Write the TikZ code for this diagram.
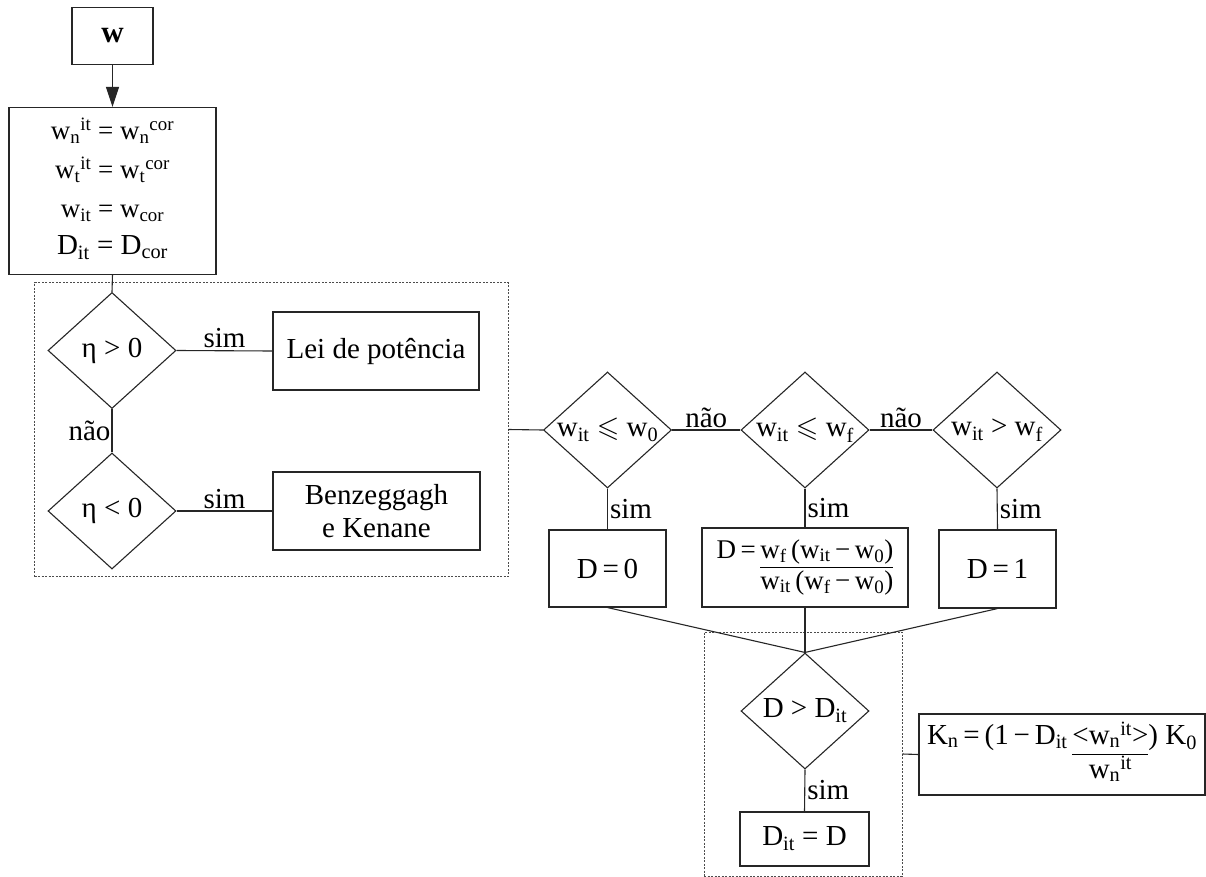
\documentclass[tikz,border=0pt]{standalone}
\usepackage{fontspec}
\setmainfont{Liberation Serif}
\usepackage{amssymb}
\usetikzlibrary{shapes.geometric,arrows.meta}
\setlength{\arrayrulewidth}{1pt}
\begin{document}
\begin{tikzpicture}[x=1pt,y=-1pt,
  every node/.style={font=\fontsize{29}{33}\selectfont},
  line/.style={line width=1.1pt, draw=black!85},
  box/.style={draw=black!85, line width=1.1pt, rectangle, inner sep=0pt, align=center},
  dec/.style={draw=black!85, line width=1.1pt, diamond, inner sep=0pt, minimum width=128pt, minimum height=116pt},
  grp/.style={draw=black!70, line width=0.8pt, dash pattern=on 2pt off 1.5pt, rectangle, inner sep=0pt},
  lab/.style={inner sep=2pt}
]
\useasboundingbox[fill=white] (0,0) rectangle (1206,877);

% top boxes
\node[box, minimum width=81pt, minimum height=57pt] (w) at (112.5,35.8) {\fontsize{31}{33}\selectfont\textbf{w}};
\node[box, minimum width=207pt, minimum height=166.5pt] (init) at (112.5,190.8)
  {\begin{tabular}{@{}c@{}}
   {\fontsize{27}{30}\selectfont w\textsubscript{n}\textsuperscript{it} = w\textsubscript{n}\textsuperscript{cor}}\\[6pt]
   {\fontsize{27}{30}\selectfont w\textsubscript{t}\textsuperscript{it} = w\textsubscript{t}\textsuperscript{cor}}\\[6pt]
   {\fontsize{27}{30}\selectfont w\textsubscript{it} = w\textsubscript{cor}}\\[4pt]
   D\textsubscript{it} = D\textsubscript{cor}
   \end{tabular}};

% group 1
\node[grp, minimum width=473.5pt, minimum height=294pt] (g1) at (271.25,429.5) {};
\node[dec, label=center:{η > 0}] (d1) at (112,350.5) {};
\node[dec, label=center:{η < 0}] (d2) at (112,511) {};
\node[box, minimum width=206pt, minimum height=78pt] (lei) at (376,351) {Lei de potência};
\node[box, minimum width=207pt, minimum height=78pt] (benz) at (376.5,511) {Benzeggagh\\ e Kenane};

% damage decisions
\node[dec, label=center:{w\textsubscript{it} $\leqslant$ w\textsubscript{0}}] (d3) at (607.5,430) {};
\node[dec, label=center:{w\textsubscript{it} $\leqslant$ w\textsubscript{f}}] (d4) at (805,430) {};
\node[dec, label=center:{w\textsubscript{it} > w\textsubscript{f}}] (d5) at (997,430) {};

\node[box, minimum width=117pt, minimum height=77pt] (D0) at (607.5,568.5) {D\,=\,0};
\node[box, minimum width=206pt, minimum height=79pt] (Df) at (805,567.5)
  {\fontsize{27}{30}\selectfont D\,=\,\begin{tabular}[t]{@{}c@{}}w\textsubscript{f}\,(w\textsubscript{it}\,−\,w\textsubscript{0})\\\hline
   w\textsubscript{it}\,(w\textsubscript{f}\,−\,w\textsubscript{0})\end{tabular}};
\node[box, minimum width=117pt, minimum height=78pt] (D1) at (997.5,569) {D\,=\,1};

% group 2
\node[grp, minimum width=198pt, minimum height=244pt] (g2) at (803,754) {};
\node[dec, label=center:{D > D\textsubscript{it}}] (d6) at (805,711) {};
\node[box, minimum width=129pt, minimum height=54pt] (Dit) at (804.5,839) {D\textsubscript{it} = D};

\node[box, minimum width=286pt, minimum height=81pt] (K) at (1062,754.5)
  {K\textsubscript{n}\,=\,(1\,−\,D\textsubscript{it}\,\begin{tabular}[t]{@{}c@{}}<w\textsubscript{n}\textsuperscript{it}>\\\hline
   w\textsubscript{n}\textsuperscript{it}\end{tabular}) K\textsubscript{0}};

% connectors
\draw[line, -{Triangle[length=20pt,width=13pt]}] (w.south) -- (init.north);
\draw[line] (init.south) -- (d1.north);
\draw[line] (d1.east) -- node[lab, above] {sim} (lei.west);
\draw[line] (d1.south) -- node[lab, left, inner sep=1pt] {não} (d2.north);
\draw[line] (d2.east) -- node[lab, above] {sim} (benz.west);
\draw[line] (g1.east) -- (d3.west);
\draw[line] (d3.east) -- node[lab, above] {não} (d4.west);
\draw[line] (d4.east) -- node[lab, above] {não} (d5.west);
\draw[line] (d3.south) -- node[lab, right] {sim} (D0.north);
\draw[line] (d4.south) -- node[lab, right] {sim} (Df.north);
\draw[line] (d5.south) -- node[lab, right] {sim} (D1.north);
\draw[line] (D0.south) -- (d6.north);
\draw[line] (Df.south) -- (d6.north);
\draw[line] (D1.south) -- (d6.north);
\draw[line] (d6.south) -- node[lab, right] {sim} (Dit.north);
\draw[line] (g2.east) -- (K.west);
\end{tikzpicture}
\end{document}
